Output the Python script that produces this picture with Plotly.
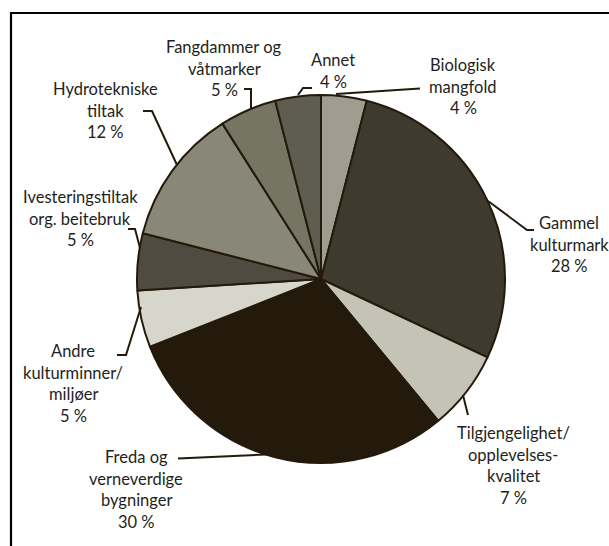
import plotly.graph_objects as go

# ---- data ----
categories = [
    "Biologisk<br>mangfold",
    "Gammel<br>kulturmark",
    "Tilgjengelighet/<br>opplevelses-<br>kvalitet",
    "Freda og<br>verneverdige<br>bygninger",
    "Andre<br>kulturminner/<br>miljøer",
    "Ivesteringstiltak<br>org. beitebruk",
    "Hydrotekniske<br>tiltak",
    "Fangdammer og<br>våtmarker",
    "Annet",
]
values = [4, 28, 7, 30, 5, 5, 12, 5, 4]

# ---- styles / layout ----
colors = ["#a09d90", "#3f3a2e", "#c5c3b6", "#231a0b", "#d6d6cc",
          "#504b40", "#898777", "#767462", "#5f5d4f"]
W, H = 609, 546
cx, cy, r = 321, 279, 184

# label anchor (center x, y of first line) in pixels
label_pos = [(463, 65), (569, 223), (513, 433), (136, 457), (73, 351),
             (80, 197), (105, 89), (224, 47), (333, 60)]
line_step = 21.7

# leader line paths in pixels
leaders = [
    [(336, 94), (420, 88.5)],
    [(488, 201), (527, 230), (534, 230)],
    [(463, 395), (468, 415)],
    [(178, 458.5), (276, 454)],
    [(117, 355), (126, 355), (141, 307)],
    [(128, 229), (135, 229), (140, 248)],
    [(143, 111), (152, 111), (177, 165)],
    [(244, 89), (251, 89), (251, 108)],
    [(312, 88), (303, 88), (298, 95)],
]

fx = lambda x: x / W
fy = lambda y: 1 - y / H

fig = go.Figure(go.Pie(
    labels=[c.replace("<br>", " ") for c in categories],
    values=values,
    sort=False,
    direction="clockwise",
    rotation=0,
    textinfo="none",
    hoverinfo="label+percent",
    marker=dict(colors=colors, line=dict(color="#231a0b", width=2)),
    domain=dict(x=[fx(cx - r), fx(cx + r)], y=[fy(cy + r), fy(cy - r)]),
    showlegend=False,
))

annotations = []
for cat, v, (lx, ly) in zip(categories, values, label_pos):
    lines = cat.split("<br>") + [f"{v} %"]
    for i, t in enumerate(lines):
        annotations.append(dict(
            x=fx(lx), y=fy(ly + i * line_step), xref="paper", yref="paper",
            text=t, showarrow=False, xanchor="center", yanchor="middle",
            font=dict(family="Lato", size=16.5, color="#231f20"),
        ))

shapes = []
for pts in leaders:
    path = "M " + " L ".join(f"{fx(x):.5f},{fy(y):.5f}" for x, y in pts)
    shapes.append(dict(type="path", path=path, xref="paper", yref="paper",
                       line=dict(color="#231a0b", width=2)))
# frame (only left and top edges are visible in the picture)
shapes.append(dict(type="line", xref="paper", yref="paper",
                   x0=fx(11), y0=fy(12), x1=fx(11), y1=-0.2,
                   line=dict(color="#000000", width=2.2)))
shapes.append(dict(type="line", xref="paper", yref="paper",
                   x0=fx(10), y0=fy(13), x1=1.2, y1=fy(13),
                   line=dict(color="#000000", width=2.2)))

fig.update_layout(
    width=W, height=H,
    margin=dict(l=0, r=0, t=0, b=0),
    paper_bgcolor="white", plot_bgcolor="white",
    annotations=annotations, shapes=shapes,
)
fig.write_html(
    "out.html",
    config={"displayModeBar": False},
    post_script="document.body.style.margin='0';document.body.style.overflow='hidden';",
)
